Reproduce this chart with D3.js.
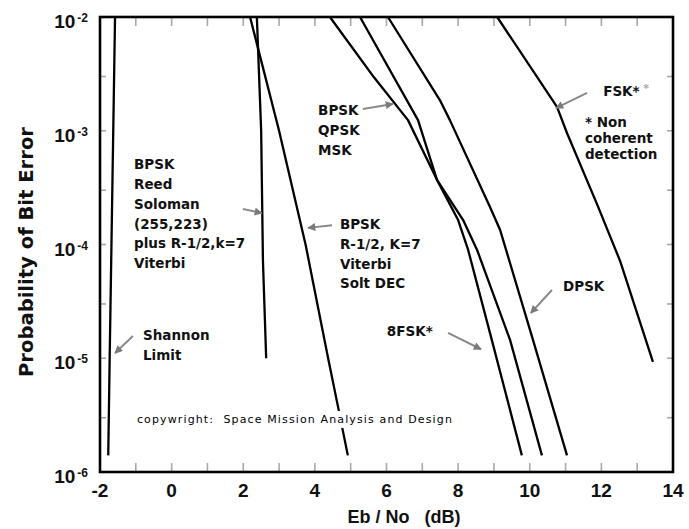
<!DOCTYPE html>
<html>
<head>
<meta charset="utf-8">
<script src="https://cdn.jsdelivr.net/npm/d3@7"></script>
<style>
  html, body { margin: 0; padding: 0; background: #fff; }
  svg { display: block; }
</style>
</head>
<body>
<div id="chart"></div>
<script>
// ---------- data ----------
const xTickValues = [-2, 0, 2, 4, 6, 8, 10, 12, 14];
const xMinorTicks = [-1, 1, 3, 5, 7, 9, 11, 13];
const yTickExponents = [-2, -3, -4, -5, -6];
const yMinorTicks = [3e-3, 3e-4, 3e-5, 3e-6];

const shannonEb  = [-1.58, -1.63, -1.68, -1.73, -1.77];
const shannonBer = [1e-2, 1e-3, 1e-4, 1e-5, 1.4e-6];

const rsEb  = [2.38, 2.50, 2.55, 2.64];
const rsBer = [1e-2, 1e-3, 7.2e-5, 1e-5];

const vitEb  = [2.19, 3.00, 3.74, 4.37, 4.65, 4.92];
const vitBer = [1e-2, 1e-3, 1e-4, 1e-5, 3.7e-6, 1.4e-6];

const bpskEb  = [4.42, 5.65, 6.60, 7.41, 8.14, 8.53, 9.45, 10.34];
const bpskBer = [1e-2, 2.95e-3, 1.24e-3, 3.7e-4, 1.64e-4, 8.95e-5, 1.45e-5, 1.4e-6];

const fsk8Eb  = [5.26, 6.88, 7.41, 8.00, 8.28, 8.94, 9.78];
const fsk8Ber = [1e-2, 1.24e-3, 3.7e-4, 1.64e-4, 8.95e-5, 1.45e-5, 1.4e-6];

const dpskEb  = [6.04, 7.49, 7.77, 8.89, 9.17, 10.09, 11.04];
const dpskBer = [1e-2, 1.86e-3, 1.24e-3, 2.14e-4, 1.35e-4, 1.45e-5, 1.4e-6];

const fskEb  = [9.09, 10.76, 11.04, 11.91, 12.52, 13.44];
const fskBer = [1e-2, 1.62e-3, 9.55e-4, 2.14e-4, 7.2e-5, 9.3e-6];

// label blocks: anchor (Eb/No, BER) of first baseline
const labelTexts = [
  ["BPSK", "Reed", "Soloman", "(255,223)", "plus R-1/2,k=7", "Viterbi"],
  ["Shannon", "Limit"],
  ["BPSK", "QPSK", "MSK"],
  ["BPSK", "R-1/2, K=7", "Viterbi", "Solt DEC"],
  ["8FSK*"],
  ["DPSK"],
  ["FSK*"],
  ["* Non", "coherent", "detection"]
];
const labelEb  = [-1.05, -0.80, 4.09, 4.70, 6.01, 10.93, 12.05, 11.54];
const labelBer = [4.6e-4, 1.44e-5, 1.37e-3, 1.37e-4, 1.57e-5, 3.9e-5, 2.02e-3, 1.08e-3];

// arrows: from (Eb, BER) to (Eb, BER)
const arrowFromEb  = [-1.08, 1.99, 5.34, 4.48, 7.72, 10.62, 11.60];
const arrowFromBer = [1.57e-5, 2.05e-4, 1.55e-3, 1.48e-4, 1.67e-5, 3.98e-5, 2.15e-3];
const arrowToEb    = [-1.58, 2.52, 6.18, 3.81, 8.64, 10.03, 10.73];
const arrowToBer   = [1.11e-5, 1.89e-4, 1.72e-3, 1.40e-4, 1.2e-5, 2.5e-5, 1.58e-3];

const copyrightText = "copywright:  Space Mission Analysis and Design";
const copyrightEb = -0.97, copyrightBer = 2.7e-6;

// ---------- chart ----------
const W = 689, H = 529;
const svg = d3.select("#chart").append("svg").attr("width", W).attr("height", H);

const x = d3.scaleLinear().domain([-2, 14]).range([100, 673]);
const y = d3.scaleLog().domain([1e-6, 1e-2]).range([472, 17]);

const defs = svg.append("defs");
defs.append("marker")
  .attr("id", "ah").attr("viewBox", "0 0 10 10")
  .attr("refX", 9).attr("refY", 5)
  .attr("markerWidth", 5).attr("markerHeight", 4)
  .attr("markerUnits", "strokeWidth")
  .attr("orient", "auto")
  .append("path").attr("d", "M0,0 L10,5 L0,10 Z").attr("fill", "#7a7a7a");

// minor gray ticks
const tickG = svg.append("g").attr("stroke", "#a8a8a8").attr("stroke-width", 1.6);
const allX = xTickValues.concat(xMinorTicks);
allX.forEach(v => {
  tickG.append("line").attr("x1", x(v)).attr("x2", x(v)).attr("y1", y(1e-6)).attr("y2", y(1e-6) - 9);
  tickG.append("line").attr("x1", x(v)).attr("x2", x(v)).attr("y1", y(1e-2)).attr("y2", y(1e-2) + 9);
});
const allY = yTickExponents.map(e => Math.pow(10, e)).concat(yMinorTicks);
allY.forEach(v => {
  tickG.append("line").attr("x1", x(-2)).attr("x2", x(-2) + 6).attr("y1", y(v)).attr("y2", y(v));
  tickG.append("line").attr("x1", x(14)).attr("x2", x(14) - 6).attr("y1", y(v)).attr("y2", y(v));
});

// curves
const line = d3.line().x(d => x(d[0])).y(d => y(d[1]));
const series = [
  [shannonEb, shannonBer], [rsEb, rsBer], [vitEb, vitBer], [bpskEb, bpskBer],
  [fsk8Eb, fsk8Ber], [dpskEb, dpskBer], [fskEb, fskBer]
];
series.forEach(([eb, ber]) => {
  svg.append("path")
    .datum(eb.map((e, i) => [e, ber[i]]))
    .attr("d", line)
    .attr("fill", "none")
    .attr("stroke", "#000")
    .attr("stroke-width", 2.3)
    .attr("stroke-linejoin", "round");
});

// copyright with white background
const cg = svg.append("g");
const ct = cg.append("text")
  .attr("x", x(copyrightEb)).attr("y", y(copyrightBer))
  .attr("font-family", "DejaVu Sans").attr("font-size", 11)
  .attr("textLength", 315).attr("lengthAdjust", "spacing")
  .style("white-space", "pre")
  .attr("fill", "#000")
  .text(copyrightText);
const bb = ct.node().getBBox();
cg.insert("rect", "text").attr("x", bb.x - 2).attr("y", bb.y - 2)
  .attr("width", bb.width + 4).attr("height", bb.height + 4).attr("fill", "#fff");

// frame
svg.append("rect")
  .attr("x", x(-2)).attr("y", y(1e-2))
  .attr("width", x(14) - x(-2)).attr("height", y(1e-6) - y(1e-2))
  .attr("fill", "none").attr("stroke", "#000").attr("stroke-width", 2.6);

// arrows
arrowFromEb.forEach((e, i) => {
  svg.append("line")
    .attr("x1", x(e)).attr("y1", y(arrowFromBer[i]))
    .attr("x2", x(arrowToEb[i])).attr("y2", y(arrowToBer[i]))
    .attr("stroke", "#8a8a8a").attr("stroke-width", 2)
    .attr("marker-end", "url(#ah)");
});

// labels
labelTexts.forEach((lines, i) => {
  const t = svg.append("text")
    .attr("x", x(labelEb[i])).attr("y", y(labelBer[i]))
    .attr("font-family", "DejaVu Sans").attr("font-weight", "bold")
    .attr("font-size", 13.5).attr("fill", "#111");
  const spacing = (i === 7) ? 16 : 19.8;
  lines.forEach((s, j) => {
    t.append("tspan").attr("x", x(labelEb[i])).attr("dy", j === 0 ? 0 : spacing).text(s);
  });
});
// faint extra asterisk after FSK*
svg.append("text")
  .attr("x", x(labelEb[6]) + 40).attr("y", y(labelBer[6]) - 4)
  .attr("font-family", "DejaVu Sans").attr("font-weight", "bold")
  .attr("font-size", 11).attr("fill", "#aaa").text("*");

// x tick labels
svg.append("g").selectAll("text").data(xTickValues).join("text")
  .attr("x", d => x(d)).attr("y", 497)
  .attr("text-anchor", "middle")
  .attr("font-family", "Liberation Sans").attr("font-weight", "bold")
  .attr("font-size", 19).attr("fill", "#111")
  .text(d => d);

// y tick labels
yTickExponents.forEach(e => {
  const t = svg.append("text")
    .attr("x", 88).attr("y", y(Math.pow(10, e)) + 11)
    .attr("text-anchor", "end")
    .attr("font-family", "Liberation Sans").attr("font-weight", "bold")
    .attr("font-size", 19).attr("fill", "#111");
  t.append("tspan").text("10");
  t.append("tspan").attr("font-size", 12).attr("dx", 2).attr("dy", -6).text(String(e));
});

// axis titles
svg.append("text")
  .attr("transform", "translate(33,252) rotate(-90)")
  .attr("text-anchor", "middle")
  .attr("font-family", "DejaVu Sans").attr("font-weight", "bold")
  .attr("font-size", 20).attr("fill", "#111")
  .attr("textLength", 250).attr("lengthAdjust", "spacingAndGlyphs")
  .text("Probability of Bit Error");

svg.append("text")
  .attr("x", 404).attr("y", 523)
  .attr("text-anchor", "middle")
  .attr("font-family", "Liberation Sans").attr("font-weight", "bold")
  .attr("font-size", 18).attr("fill", "#111")
  .style("white-space", "pre")
  .text("Eb / No   (dB)");
</script>
</body>
</html>
